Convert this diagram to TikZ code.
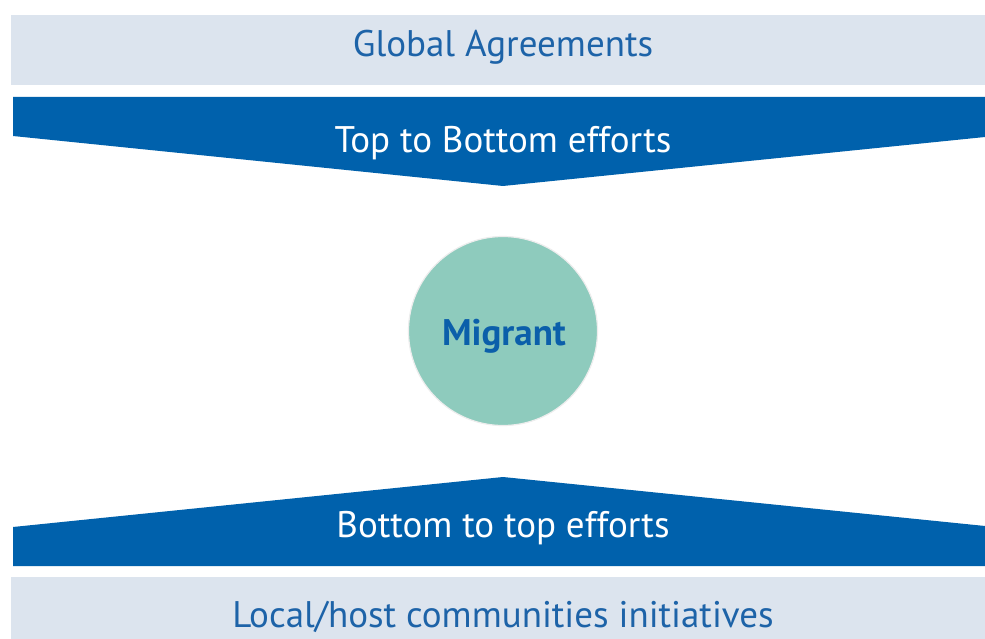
\documentclass[tikz,border=0pt]{standalone}
\usepackage{fontspec}
\setmainfont{PT Sans}
\definecolor{lightbox}{HTML}{DCE4EE}
\definecolor{darkblue}{HTML}{0061AC}
\definecolor{txtblue}{HTML}{1D63A8}
\definecolor{migblue}{HTML}{0B5FAA}
\definecolor{mint}{HTML}{8ECBBD}
\begin{document}
\begin{tikzpicture}[x=1pt,y=-1pt,
  band/.style={fill=lightbox,draw=none},
  arrowshape/.style={fill=darkblue,draw=none},
  bandtext/.style={text=txtblue,font=\fontsize{37}{42}\selectfont,inner sep=0pt,anchor=base},
  arrowtext/.style={text=white,font=\fontsize{37}{42}\selectfont,inner sep=0pt,anchor=base},
  hub/.style={circle,fill=mint,draw=white!93!black,line width=1.2pt,minimum size=189pt,inner sep=0pt},
  hubtext/.style={text=migblue,font=\bfseries\fontsize{37}{42}\selectfont,inner sep=0pt,anchor=base}]
\useasboundingbox (0,0) rectangle (985,639);
\fill[white] (0,0) rectangle (985,639);
% top band
\fill[band] (11,15) rectangle (985,85);
\node[bandtext] (global) at (503,57) {Global Agreements};
% top arrow
\fill[arrowshape] (13,97) -- (985,97) -- (985,137) -- (503,186) -- (13,136) -- cycle;
\node[arrowtext] (topdown) at (503,153) {Top to Bottom efforts};
% circle
\node[hub] (migrant) at (503,331) {};
\node[hubtext] (miglabel) at (504,345) {Migrant};
% bottom arrow
\fill[arrowshape] (13,527) -- (503,477) -- (985,526) -- (985,566) -- (13,566) -- cycle;
\node[arrowtext] (bottomup) at (503,537) {Bottom to top efforts};
% bottom band
\fill[band] (11,577) rectangle (985,639);
\node[bandtext] (local) at (503,627) {Local/host communities initiatives};
\end{tikzpicture}
\end{document}
